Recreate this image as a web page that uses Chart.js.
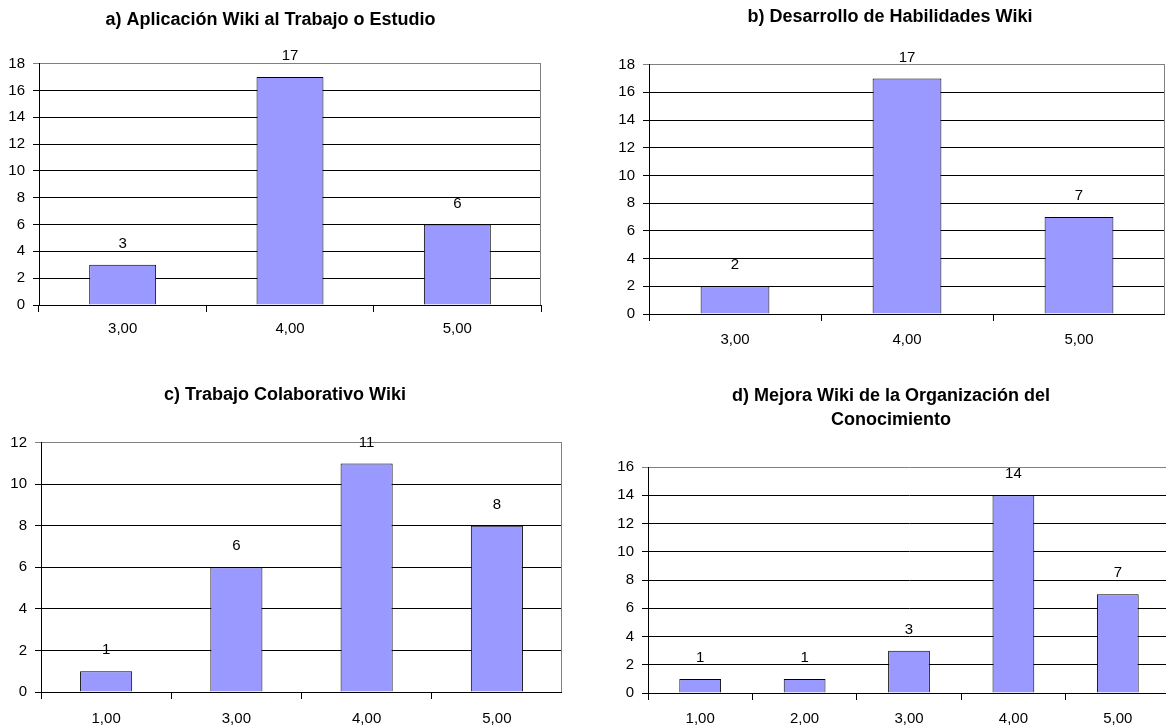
<!DOCTYPE html>
<html>
<head>
<meta charset="utf-8">
<script src="https://cdn.jsdelivr.net/npm/chart.js@4.4.1/dist/chart.umd.min.js"></script>
<style>
  html, body { margin: 0; padding: 0; background: #fff; overflow: hidden; width: 1166px; height: 728px; }
  canvas { position: absolute; }
</style>
</head>
<body>
<canvas id="chartA"></canvas>
<canvas id="chartB"></canvas>
<canvas id="chartC"></canvas>
<canvas id="chartD"></canvas>
<script>
// data
const labelsA = ['3,00', '4,00', '5,00'];
const valuesA = [3, 17, 6];
const titleA = 'a) Aplicación Wiki al Trabajo o Estudio';
const yMaxA = 18;

const labelsB = ['3,00', '4,00', '5,00'];
const valuesB = [2, 17, 7];
const titleB = 'b) Desarrollo de Habilidades Wiki';
const yMaxB = 18;

const labelsC = ['1,00', '3,00', '4,00', '5,00'];
const valuesC = [1, 6, 11, 8];
const titleC = 'c) Trabajo Colaborativo Wiki';
const yMaxC = 12;

const labelsD = ['1,00', '2,00', '3,00', '4,00', '5,00'];
const valuesD = [1, 1, 3, 14, 7];
const titleD = ['d) Mejora Wiki de la Organización del', 'Conocimiento'];
const yMaxD = 16;

Chart.defaults.font.family = '"Liberation Sans", Arial, sans-serif';
Chart.defaults.color = '#000';

// value above each bar
const valueLabels = {
  id: 'valueLabels',
  afterDatasetsDraw(chart) {
    const ctx = chart.ctx;
    const ds = chart.data.datasets[0];
    ctx.save();
    ctx.font = '15px "Liberation Sans", Arial, sans-serif';
    ctx.fillStyle = '#000';
    ctx.textAlign = 'center';
    ctx.textBaseline = 'middle';
    chart.getDatasetMeta(0).data.forEach((bar, i) => {
      ctx.fillText(String(ds.data[i]), bar.x, bar.y - 21);
    });
    ctx.restore();
  }
};

// grey right edge of the plot area
const plotFrame = {
  id: 'plotFrame',
  beforeDatasetsDraw(chart) {
    const { ctx, chartArea } = chart;
    ctx.save();
    ctx.strokeStyle = '#808080';
    ctx.lineWidth = 1;
    const x = Math.round(chartArea.right) - 0.5;
    ctx.beginPath();
    ctx.moveTo(x, chartArea.top);
    ctx.lineTo(x, chartArea.bottom);
    ctx.stroke();
    ctx.restore();
  }
};

function makeChart(id, box, labels, values, title, yMax) {
  const canvas = document.getElementById(id);
  canvas.style.left = box.left + 'px';
  canvas.style.top = box.top + 'px';
  canvas.width = box.width;
  canvas.height = box.height;

  return new Chart(canvas, {
    type: 'bar',
    data: {
      labels: labels,
      datasets: [{
        data: values,
        backgroundColor: '#9999FF',
        borderColor: '#000',
        borderWidth: 1,
        categoryPercentage: 1,
        barPercentage: 0.4
      }]
    },
    options: {
      responsive: false,
      animation: false,
      layout: { padding: { left: 0, right: box.padRight, top: 0, bottom: 0 } },
      plugins: {
        legend: { display: false },
        tooltip: { enabled: false },
        title: {
          display: true,
          text: title,
          color: '#000',
          font: { size: 18, weight: 'bold', lineHeight: box.lineHeight },
          padding: { top: box.padTop, bottom: box.padBottom }
        }
      },
      scales: {
        x: {
          grid: {
            display: true,
            offset: true,
            drawOnChartArea: false,
            drawTicks: true,
            tickLength: 7,
            color: '#000'
          },
          border: { display: true, color: '#000' },
          ticks: { font: { size: 15 }, padding: box.xPad, maxRotation: 0 },
          afterFit(scale) { scale.height = box.xAxisHeight; }
        },
        y: {
          min: 0,
          max: yMax,
          grid: {
            drawTicks: true,
            tickLength: 6,
            color: (c) => (c.tick && c.tick.value === yMax ? '#808080' : '#000')
          },
          border: { display: true, color: '#000' },
          ticks: { stepSize: 2, font: { size: 15 }, padding: 8 },
          afterFit(scale) { scale.width = box.yAxisWidth; }
        }
      }
    },
    plugins: [plotFrame, valueLabels]
  });
}

makeChart('chartA',
  { left: 0, top: 0, width: 542, height: 345, padRight: 1, yAxisWidth: 39, xAxisHeight: 40, xPad: 8, padTop: 9, padBottom: 33, lineHeight: 1.2 },
  labelsA, valuesA, titleA, yMaxA);

makeChart('chartB',
  { left: 615, top: 0, width: 550, height: 355, padRight: 0, yAxisWidth: 34, xAxisHeight: 41, xPad: 10, padTop: 6, padBottom: 37, lineHeight: 1.2 },
  labelsB, valuesB, titleB, yMaxB);

makeChart('chartC',
  { left: 8, top: 370, width: 554, height: 358, padRight: 0, yAxisWidth: 33, xAxisHeight: 36, xPad: 11, padTop: 14, padBottom: 37, lineHeight: 1.2 },
  labelsC, valuesC, titleC, yMaxC);

makeChart('chartD',
  { left: 612, top: 370, width: 558, height: 358, padRight: 0, yAxisWidth: 36, xAxisHeight: 35, xPad: 10, padTop: 15, padBottom: 36, lineHeight: 1.28 },
  labelsD, valuesD, titleD, yMaxD);
</script>
</body>
</html>
